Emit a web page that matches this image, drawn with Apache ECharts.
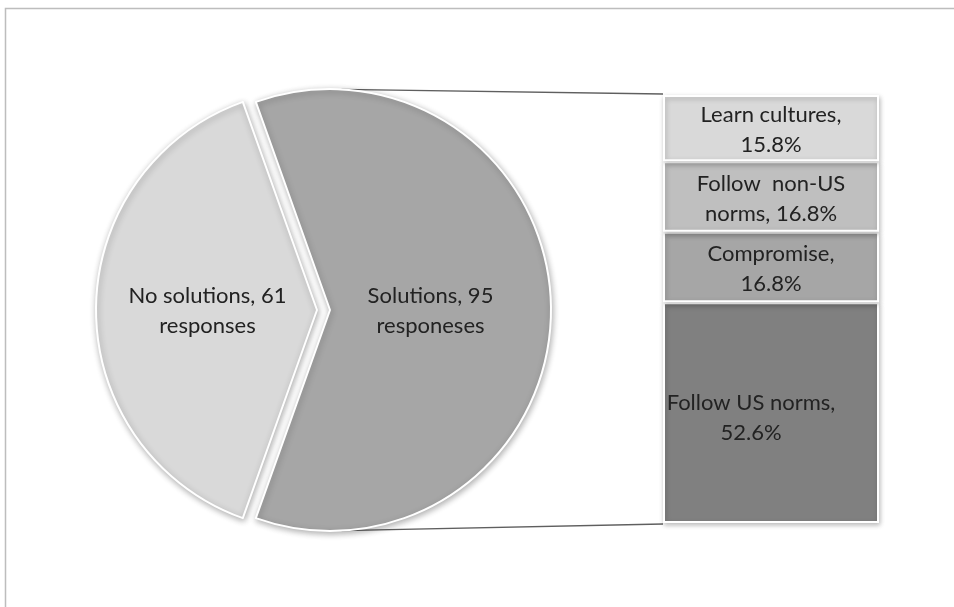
<!DOCTYPE html>
<html>
<head>
<meta charset="utf-8">
<script src="https://cdn.jsdelivr.net/npm/echarts@6/dist/echarts.min.js"></script>
<style>
  html, body { margin: 0; padding: 0; background: #fff; }
  #chart { width: 954px; height: 607px; }
</style>
</head>
<body>
<div id="chart"></div>
<script>
// Survey responses: pie split into "No solutions" / "Solutions",
// with the "Solutions" slice broken down in a stacked bar.
const pieNames  = ['Solutions', 'No solutions'];
const pieValues = [95, 61];
const pieUnits  = ['responeses', 'responses'];
const pieColors = ['#a6a6a6', '#d9d9d9'];

// Breakdown of the solutions, bottom segment first ('\n' marks a line break in the label)
const segNames  = ['Follow US norms', 'Compromise', 'Follow  non-US\nnorms', 'Learn cultures'];
const segValues = [52.6, 16.8, 16.8, 15.8];
const segColors = ['#808080', '#a6a6a6', '#bfbfbf', '#d9d9d9'];

const FONT = 'Lato, "Open Sans", sans-serif';
const TEXT = '#222222';

// layout
const PIE_C = [323.5, 310];
const PIE_R = 221;
const EXPLODE = 6.5;
const BAR = { left: 663, top: 95, width: 216, height: 428 };

const chart = echarts.init(document.getElementById('chart'), null, { renderer: 'canvas' });

const total = pieValues.reduce((a, b) => a + b, 0);
const solutionsSweep = pieValues[0] / total * 360;
// the "Solutions" slice is centred on the right-hand horizontal
const startAngle = solutionsSweep / 2;

// nudge of each pie label from its default inside position
const pieLabelShift = [[-13, 1], [4, 1]];
const pieData = pieNames.map((n, i) => ({
  name: n,
  value: pieValues[i],
  unit: pieUnits[i],
  selected: true,
  itemStyle: { color: pieColors[i] }
}));

const segTotal = segValues.reduce((a, b) => a + b, 0);

const barSeries = segNames.map((n, i) => ({
  type: 'bar',
  name: n,
  stack: 'solutions',
  barWidth: '100%',
  data: [segValues[i]],
  itemStyle: {
    color: segColors[i],
    borderColor: '#ffffff',
    borderWidth: 2,
    shadowBlur: 5,
    shadowColor: 'rgba(0,0,0,0.25)',
    shadowOffsetX: 1,
    shadowOffsetY: 2
  },
  label: {
    show: true,
    position: 'inside',
    fontFamily: FONT,
    fontSize: 22,
    lineHeight: 30,
    color: TEXT,
    offset: i === 0 ? [-20, 5] : [0, 2],
    formatter: p => n.includes('\n') ? `${n}, ${p.value}%` : `${n},\n${p.value}%`
  },
  emphasis: { disabled: true },
  silent: true
}));

// connector lines from the exploded "Solutions" slice to the bar corners
const solC = [PIE_C[0] + EXPLODE, PIE_C[1]];
const a = 87 * Math.PI / 180;
const topStart = [solC[0] + PIE_R * Math.cos(a), solC[1] - PIE_R * Math.sin(a)];
const botStart = [solC[0] + PIE_R * Math.cos(a), solC[1] + PIE_R * Math.sin(a)];

chart.setOption({
  backgroundColor: '#ffffff',
  animation: false,
  grid: { left: BAR.left, top: BAR.top, width: BAR.width, height: BAR.height },
  xAxis: { type: 'category', data: ['Solutions'], show: false },
  yAxis: { type: 'value', min: 0, max: segTotal, show: false },
  graphic: [
    {
      type: 'rect', silent: true, z: -10,
      shape: { x: 5.5, y: 8.5, width: 1100, height: 800 },
      style: { fill: 'none', stroke: '#bdbdbd', lineWidth: 1.5 }
    },
    {
      type: 'line', silent: true, z: -1,
      shape: { x1: topStart[0], y1: topStart[1], x2: BAR.left, y2: BAR.top - 1 },
      style: { stroke: '#5f5f5f', lineWidth: 1.3 }
    },
    {
      type: 'line', silent: true, z: -1,
      shape: { x1: botStart[0], y1: botStart[1], x2: BAR.left, y2: BAR.top + BAR.height + 1 },
      style: { stroke: '#5f5f5f', lineWidth: 1.3 }
    }
  ],
  series: [
    {
      type: 'pie',
      center: PIE_C,
      radius: PIE_R,
      startAngle: startAngle,
      clockwise: true,
      selectedMode: 'multiple',
      selectedOffset: EXPLODE,
      avoidLabelOverlap: false,
      data: pieData,
      itemStyle: {
        borderColor: '#ffffff',
        borderWidth: 2,
        shadowBlur: 6,
        shadowColor: 'rgba(0,0,0,0.3)',
        shadowOffsetX: 1,
        shadowOffsetY: 2
      },
      select: { itemStyle: { borderColor: '#ffffff', borderWidth: 2 } },
      label: {
        show: true,
        position: 'inside',
        fontFamily: FONT,
        fontSize: 22,
        lineHeight: 30,
        color: TEXT,
        formatter: p => `${p.name}, ${p.value}\n${p.data.unit}`
      },
      labelLayout: p => ({ dx: pieLabelShift[p.dataIndex][0], dy: pieLabelShift[p.dataIndex][1] }),
      labelLine: { show: false },
      emphasis: { disabled: true },
      silent: true
    },
    ...barSeries
  ]
});
</script>
</body>
</html>
